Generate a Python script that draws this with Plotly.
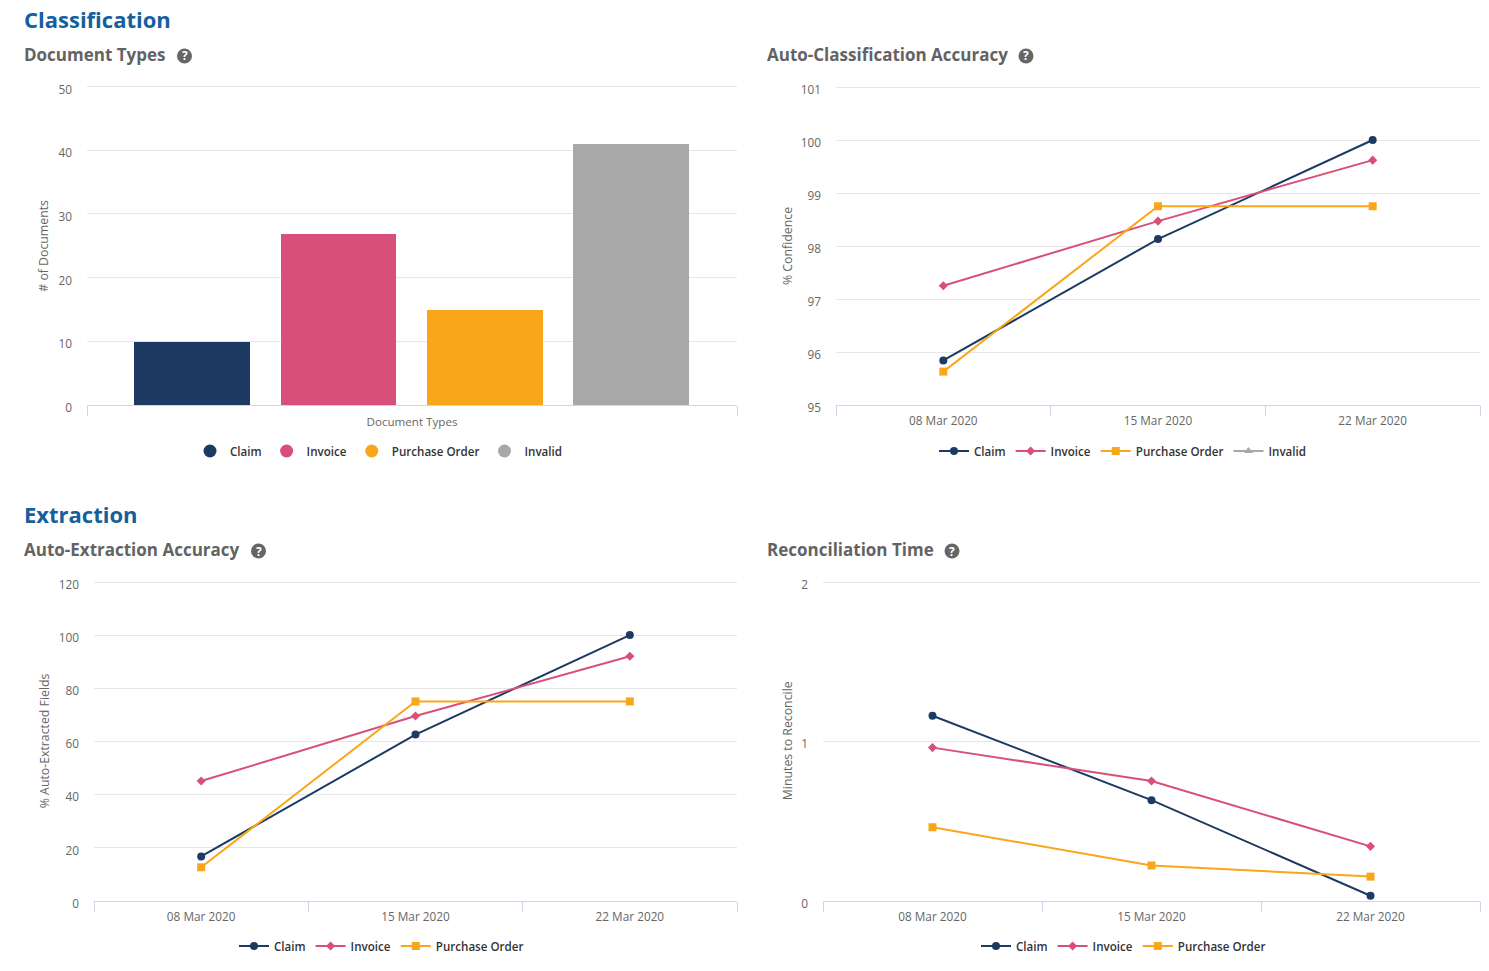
import plotly.graph_objects as go

W, H = 1489, 971
FONT = "Open Sans"
NAVY, PINK, ORANGE, GREY = "#1d3a63", "#d84f79", "#faa61a", "#a8a8a8"
AXIS, GRID = "#ccd6eb", "#e6e6e6"

doc_categories = ["Claim", "Invoice", "Purchase Order", "Invalid"]
doc_counts = [10, 27, 15, 41]
dates = ["08 Mar 2020", "15 Mar 2020", "22 Mar 2020"]

classif_claim = [95.84, 98.13, 100]
classif_invoice = [97.25, 98.47, 99.62]
classif_po = [95.63, 98.75, 98.75]

extract_claim = [16.6, 62.5, 100]
extract_invoice = [45, 69.5, 92]
extract_po = [12.5, 75, 75]

recon_claim = [1.16, 0.63, 0.03]
recon_invoice = [0.96, 0.75, 0.34]
recon_po = [0.46, 0.22, 0.15]

STYLES = {
    "Claim": (NAVY, "circle", 8),
    "Invoice": (PINK, "diamond", 7),
    "Purchase Order": (ORANGE, "square", 8),
    "Invalid": (GREY, "triangle-up", 8),
}

fig = go.Figure()


def xdom(l, r):
    return [l / W, r / W]


def ydom(t, b):
    return [1 - b / H, 1 - t / H]


def legend_cfg(x_px, y_px):
    return dict(
        orientation="h", x=x_px / W, y=1 - y_px / H, xanchor="left", yanchor="middle",
        font=dict(family=FONT, size=11.6, color="#333333", weight=600),
        bgcolor="rgba(0,0,0,0)", itemclick=False, itemdoubleclick=False,
        tracegroupgap=0,
    )


def style_axes(n, l, r, t, b, yrange, dtick, ytitle, title_x):
    s = "" if n == 1 else str(n)
    # the axis runs 3px above its top tick so that the top gridline is kept
    span = yrange[1] - yrange[0]
    top = yrange[1] + span * 3 / (b - t)
    fig.layout["xaxis" + s] = dict(
        domain=xdom(l, r), anchor="y" + s, showgrid=False, showline=True,
        linecolor=AXIS, linewidth=1, ticks="outside", ticklen=10, tickcolor=AXIS,
        ticklabelstandoff=5,
        tickfont=dict(family=FONT, size=11.8, color="#666666"),
    )
    fig.layout["yaxis" + s] = dict(
        domain=ydom(t - 3, b), anchor="x" + s, range=[yrange[0], top], dtick=dtick, tick0=yrange[0],
        showgrid=True, gridcolor=GRID, gridwidth=1, zeroline=False, showline=False,
        ticks="", ticklabelstandoff=14, ticklabelshift=3,
        tickfont=dict(family=FONT, size=11.8, color="#666666"),
    )
    fig.add_annotation(
        xref="paper", yref="paper", x=title_x / W, y=1 - (t + b) / 2 / H,
        xanchor="center", yanchor="middle",
        text=ytitle, textangle=-90, showarrow=False,
        font=dict(family=FONT, size=12.3, color="#666666"),
    )


def add_lines(n, series, legend_name):
    s = "" if n == 1 else str(n)
    for name, vals in series:
        color, sym, size = STYLES[name]
        fig.add_trace(go.Scatter(
            x=dates if vals else [None], y=vals if vals else [None], name=name,
            mode="lines+markers", line=dict(color=color, width=2),
            marker=dict(color=color, symbol=sym, size=size),
            xaxis="x" + s, yaxis="y" + s, legend=legend_name, cliponaxis=False,
        ))
    fig.layout["xaxis" + s].update(
        type="category", categoryorder="array", categoryarray=dates,
        range=[-0.5, 2.5], tickson="boundaries",
    )


# Chart 1: bars
fig.add_trace(go.Bar(
    x=list(range(4)), y=doc_counts, width=0.79, marker=dict(color=[NAVY, PINK, ORANGE, GREY], line_width=0),
    showlegend=False, xaxis="x", yaxis="y",
))
for name, color in zip(doc_categories, [NAVY, PINK, ORANGE, GREY]):
    fig.add_trace(go.Scatter(
        x=[None], y=[None], name=name, mode="markers",
        marker=dict(color=color, symbol="circle", size=13), xaxis="x", yaxis="y", legend="legend",
    ))
style_axes(1, 87, 737, 86.5, 405, [0, 50], 10, "# of Documents", 44)
fig.layout.xaxis.update(
    range=[-0.717, 3.723], tickvals=[-0.717, 3.723], ticktext=["", ""], ticklabelstandoff=0,
    title=dict(text="Document Types", standoff=0, font=dict(family=FONT, size=11.6, color="#666666")),
)

style_axes(2, 836, 1480, 87, 405, [95, 101], 1, "% Confidence", 787)
add_lines(2, [("Claim", classif_claim), ("Invoice", classif_invoice), ("Purchase Order", classif_po), ("Invalid", [])], "legend2")

style_axes(3, 94, 737, 582, 900.5, [0, 120], 20, "% Auto-Extracted Fields", 44)
add_lines(3, [("Claim", extract_claim), ("Invoice", extract_invoice), ("Purchase Order", extract_po)], "legend3")

style_axes(4, 823, 1480, 582, 900.5, [0, 2], 1, "Minutes to Reconcile", 787)
add_lines(4, [("Claim", recon_claim), ("Invoice", recon_invoice), ("Purchase Order", recon_po)], "legend4")

# Headings
for text, x, y in [("Classification", 22, 19), ("Extraction", 22, 514)]:
    fig.add_annotation(xref="paper", yref="paper", x=x / W, y=1 - y / H, xanchor="left", yanchor="middle",
                       text=f"<b>{text}</b>", showarrow=False, font=dict(family=FONT, size=22, color="#14609c"))

# Chart titles and help icons
for text, x, y, iy, ix in [("Document Types", 22, 54.5, 56, 184.5), ("Auto-Classification Accuracy", 765, 54.5, 56, 1026),
                           ("Auto-Extraction Accuracy", 22, 549.5, 551, 258.5), ("Reconciliation Time", 765, 549.5, 551, 952)]:
    fig.add_annotation(xref="paper", yref="paper", x=x / W, y=1 - y / H, xanchor="left", yanchor="middle",
                       text=f"<b>{text}</b>", showarrow=False, font=dict(family=FONT, size=17, color="#636363"))
    fig.add_shape(type="circle", xref="paper", yref="paper", x0=(ix - 7.5) / W, x1=(ix + 7.5) / W,
                  y0=1 - (iy + 7.5) / H, y1=1 - (iy - 7.5) / H, fillcolor="#666666", line_width=0)
    fig.add_annotation(xref="paper", yref="paper", x=ix / W, y=1 - iy / H, xanchor="center", yanchor="middle",
                       text="<b>?</b>", showarrow=False, font=dict(family=FONT, size=12, color="#ffffff"))

fig.update_layout(
    width=W, height=H, margin=dict(l=0, r=0, t=0, b=0, autoexpand=False), autosize=False,
    paper_bgcolor="#ffffff", plot_bgcolor="#ffffff", bargap=0, font=dict(family=FONT),
    hovermode=False,
    legend=legend_cfg(190, 451), legend2=legend_cfg(934, 451),
    legend3=legend_cfg(234, 946), legend4=legend_cfg(976, 946),
)
fig.write_html("out.html", config=dict(displayModeBar=False),
               post_script="document.body.style.margin='0';document.body.style.overflow='hidden';")
